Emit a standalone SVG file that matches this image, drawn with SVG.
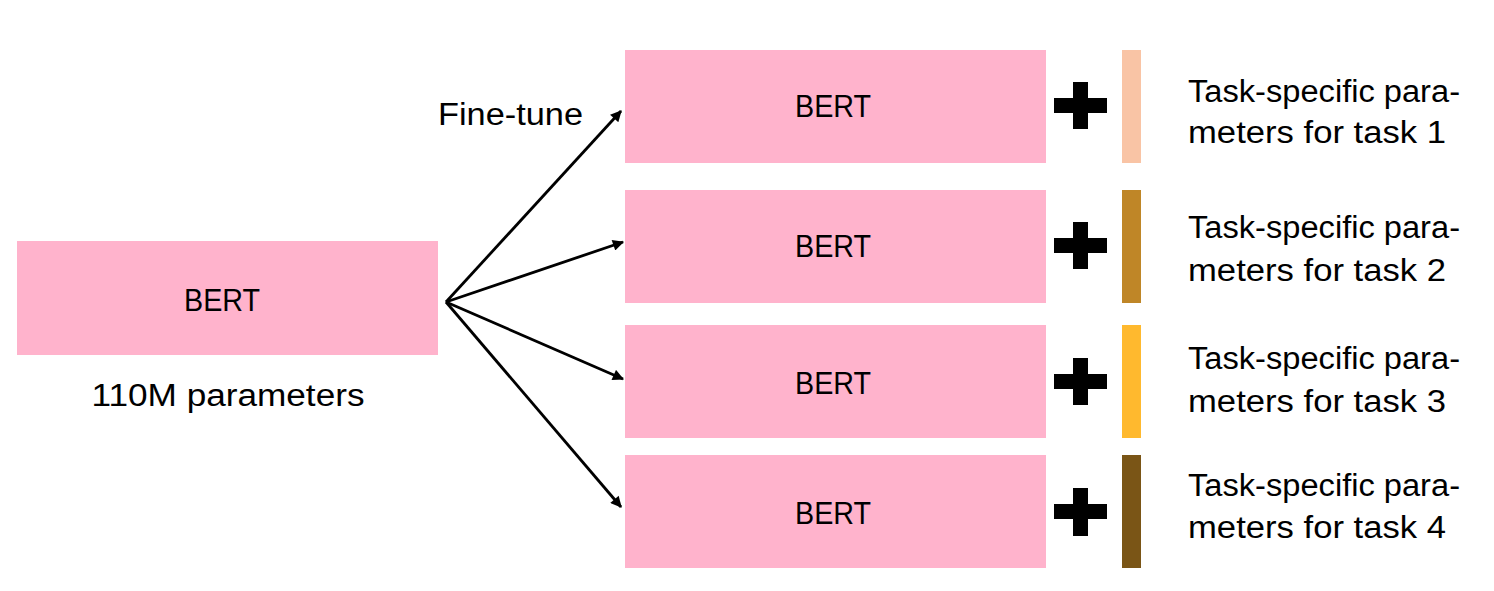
<svg xmlns="http://www.w3.org/2000/svg" width="1494" height="591" viewBox="0 0 1494 591">
<defs>
<style>
.box{fill:#FFB3CC}
.t{font-family:"Liberation Sans",Arial,sans-serif;font-size:31px;fill:#000}
.c{text-anchor:middle}
.plus{fill:#000}
.conn{stroke:#000;stroke-width:2.8;fill:none;marker-end:url(#ah)}
</style>
<marker id="ah" viewBox="0 0 10 10" refX="9" refY="5" markerWidth="4.6" markerHeight="4" orient="auto" markerUnits="strokeWidth">
<path d="M0,0 L10,5 L0,10 z" fill="#000"/>
</marker>
</defs>
<rect width="1494" height="591" fill="#fff"/>
<g id="bert-base">
<rect class="box" x="17" y="241" width="421" height="114"/>
<text class="t c" x="222" y="311" textLength="76" lengthAdjust="spacingAndGlyphs">BERT</text>
<text class="t c" x="228" y="406" textLength="273" lengthAdjust="spacingAndGlyphs">110M parameters</text>
</g>
<g id="connectors">
<line class="conn" x1="446" y1="302" x2="621" y2="111"/>
<line class="conn" x1="446" y1="302" x2="623" y2="242"/>
<line class="conn" x1="446" y1="302" x2="623" y2="379"/>
<line class="conn" x1="446" y1="302" x2="621" y2="507"/>
<text class="t" x="438" y="125" textLength="145" lengthAdjust="spacingAndGlyphs">Fine-tune</text>
</g>
<g id="task1">
<rect class="box" x="625" y="50" width="421" height="113"/>
<text class="t c" x="833" y="117" textLength="76" lengthAdjust="spacingAndGlyphs">BERT</text>
<rect class="plus" x="1054" y="98" width="53" height="15"/>
<rect class="plus" x="1073" y="82" width="15" height="47"/>
<rect x="1122" y="50" width="19" height="113" fill="#F9C4A5"/>
<text class="t" x="1188" y="102" textLength="272" lengthAdjust="spacingAndGlyphs">Task-specific para-</text>
<text class="t" x="1188" y="143" textLength="258" lengthAdjust="spacingAndGlyphs">meters for task 1</text>
</g>
<g id="task2">
<rect class="box" x="625" y="190" width="421" height="113"/>
<text class="t c" x="833" y="257" textLength="76" lengthAdjust="spacingAndGlyphs">BERT</text>
<rect class="plus" x="1054" y="238" width="53" height="15"/>
<rect class="plus" x="1073" y="222" width="15" height="47"/>
<rect x="1122" y="190" width="19" height="113" fill="#BF8627"/>
<text class="t" x="1188" y="238" textLength="272" lengthAdjust="spacingAndGlyphs">Task-specific para-</text>
<text class="t" x="1188" y="281" textLength="258" lengthAdjust="spacingAndGlyphs">meters for task 2</text>
</g>
<g id="task3">
<rect class="box" x="625" y="325" width="421" height="113"/>
<text class="t c" x="833" y="394" textLength="76" lengthAdjust="spacingAndGlyphs">BERT</text>
<rect class="plus" x="1054" y="374" width="53" height="15"/>
<rect class="plus" x="1073" y="358" width="15" height="47"/>
<rect x="1122" y="325" width="19" height="113" fill="#FFB92E"/>
<text class="t" x="1188" y="369" textLength="272" lengthAdjust="spacingAndGlyphs">Task-specific para-</text>
<text class="t" x="1188" y="412" textLength="258" lengthAdjust="spacingAndGlyphs">meters for task 3</text>
</g>
<g id="task4">
<rect class="box" x="625" y="455" width="421" height="113"/>
<text class="t c" x="833" y="524" textLength="76" lengthAdjust="spacingAndGlyphs">BERT</text>
<rect class="plus" x="1054" y="504" width="53" height="15"/>
<rect class="plus" x="1073" y="488" width="15" height="48"/>
<rect x="1122" y="455" width="19" height="113" fill="#7A5516"/>
<text class="t" x="1188" y="496" textLength="272" lengthAdjust="spacingAndGlyphs">Task-specific para-</text>
<text class="t" x="1188" y="538" textLength="258" lengthAdjust="spacingAndGlyphs">meters for task 4</text>
</g>
</svg>
